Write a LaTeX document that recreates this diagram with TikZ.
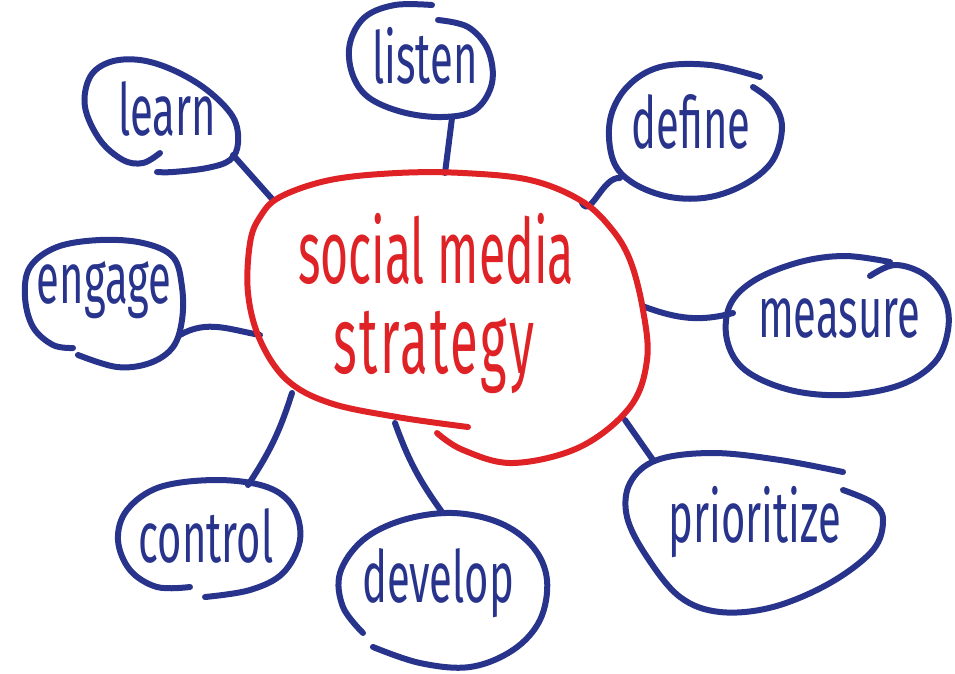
\documentclass[tikz,border=0pt]{standalone}
\usepackage{fontspec}
\setmainfont{Fira Sans}
\newfontfamily\leaffont{Fira Sans}[FakeStretch=0.58]
\newfontfamily\hubfont{Fira Sans}[FakeStretch=0.535]
\newfontfamily\hubwidefont{Fira Sans}[FakeStretch=0.535,LetterSpace=2.6]
\definecolor{penblue}{RGB}{40,52,140}
\definecolor{penred}{RGB}{222,34,38}

\begin{document}
\begin{tikzpicture}[x=1pt,y=-1pt,
    word/.style={anchor=base,inner sep=0pt,text=penblue,font=\leaffont\fontsize{72}{72}\selectfont},
    hubword/.style={anchor=base,inner sep=0pt,text=penred,font=\hubfont\fontsize{90}{90}\selectfont},
    loop/.style={draw=penblue,line width=6pt,line cap=round,smooth,tension=0.6},
    blob/.style={draw=penred,line width=6pt,line cap=round,smooth,tension=0.6},
    spoke/.style={draw=penblue,line width=6pt,line cap=round}]
    \useasboundingbox (0,0) rectangle (955,673);

    % words
    \node[hubword] (hub) at (436,283) {social media};
    \node[hubword,font=\hubwidefont\fontsize{95}{95}\selectfont] (hub2) at (434,373) {strategy};
    \node[word] (listen) at (425,83) {listen};
    \node[word] (learn) at (167,135) {learn};
    \node[word] (define) at (691,148) {define};
    \node[word] (engage) at (104,303) {engage};
    \node[word] (measure) at (839,337) {measure};
    \node[word] (control) at (206,562) {control};
    \node[word] (develop) at (438,602) {develop};
    \node[word] (prioritize) at (755,542) {prioritize};

    % ends of the spokes
    \coordinate (listen-e) at (452,118);  \coordinate (hub-listen) at (445,173);
    \coordinate (learn-e) at (233,155);   \coordinate (hub-learn) at (273,200);
    \coordinate (define-e) at (620,178);  \coordinate (hub-define) at (582,203);
    \coordinate (engage-e) at (180,335);  \coordinate (hub-engage) at (260,335);
    \coordinate (measure-e) at (733,313); \coordinate (hub-measure) at (645,307);
    \coordinate (control-e) at (248,485); \coordinate (hub-control) at (292,393);
    \coordinate (develop-e) at (442,512); \coordinate (hub-develop) at (395,423);
    \coordinate (prior-e) at (653,460);   \coordinate (hub-prior) at (625,420);

    \draw[spoke] (listen-e) -- (hub-listen);
    \draw[spoke] (learn-e) -- (hub-learn);
    \draw[spoke] (define-e) to[out=175,in=-60] (hub-define);
    \draw[spoke] (engage-e) to[out=30,in=170] (hub-engage);
    \draw[spoke] (measure-e) to[out=195,in=-20] (hub-measure);
    \draw[spoke] (control-e) to[bend right=8] (hub-control);
    \draw[spoke] (develop-e) to[bend left=8] (hub-develop);
    \draw[spoke] (prior-e) -- (hub-prior);

    % outlines
    \draw[blob] plot coordinates {(437,433) (463,450) (513,463) (580,447) (630,407) (647,360)
      (643,310) (630,260) (610,227) (580,200) (530,180) (463,173) (397,173) (330,180)
      (280,197) (260,217) (250,243) (248,293) (260,340) (287,380) (330,403) (397,417) (468,427)};
    \draw[loop] plot coordinates {(432,5) (395,5) (365,17) (350,43) (352,73) (368,97) (402,112)
      (442,117) (475,110) (492,83) (488,50) (468,27) (438,20)};
    \draw[loop] plot coordinates {(160,153) (143,163) (123,160) (100,140) (85,107) (90,77)
      (110,62) (140,60) (173,70) (207,90) (233,117) (238,143) (230,160) (207,168) (173,172) (157,172)};
    \draw[loop] plot coordinates {(760,77) (710,65) (660,67) (627,87) (610,120) (613,160)
      (633,183) (670,197) (710,197) (747,183) (773,160) (782,127) (773,103) (753,87)};
    \draw[loop] plot coordinates {(78,355) (117,367) (150,363) (173,347) (182,320) (182,287)
      (173,257) (143,243) (100,240) (57,247) (30,267) (25,297) (33,327) (53,345) (73,348)};
    \draw[loop] plot coordinates {(870,276) (895,265) (925,275) (945,300) (948,330) (935,362)
      (900,385) (845,395) (790,390) (745,370) (727,340) (730,305) (755,280) (800,262) (845,256) (890,262)};
    \draw[loop] plot coordinates {(205,597) (250,590) (283,573) (300,540) (293,507) (267,487)
      (217,480) (160,487) (127,510) (118,540) (130,570) (157,587) (190,587)};
    \draw[loop] plot coordinates {(373,647) (420,663) (470,667) (513,650) (540,620) (547,580)
      (533,547) (500,523) (453,513) (403,520) (363,540) (340,573) (343,607) (363,633)};
    \draw[loop] plot coordinates {(843,472) (780,460) (713,453) (657,460) (630,483) (627,517)
      (647,557) (680,597) (720,612) (773,607) (830,583) (873,550) (883,520) (873,503) (843,490)};
  \end{tikzpicture}
\end{document}
